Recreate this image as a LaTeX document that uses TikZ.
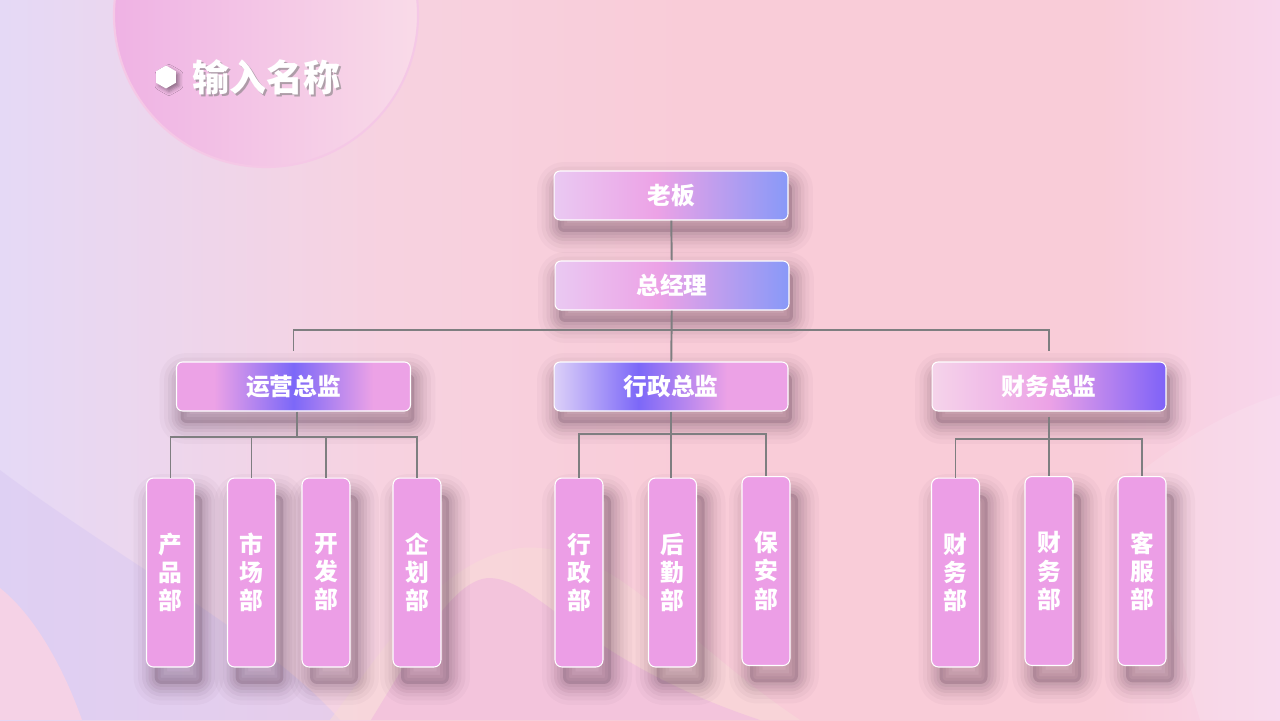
\documentclass[tikz,border=0pt]{standalone}
\usepackage{fontspec}
\newfontfamily\cjk{Noto Sans CJK SC}
\usetikzlibrary{shapes.geometric,shadows.blur}

\definecolor{bgpink}{HTML}{F9CCD8}
\definecolor{bglav}{HTML}{E5D9F6}
\definecolor{bgmid}{HTML}{F7D2E0}
\definecolor{bgright}{HTML}{F8D6EC}
\definecolor{bloblow}{HTML}{EFB2E4}
\definecolor{blobhigh}{HTML}{F9DBE8}
\definecolor{lavcorner}{HTML}{D9C8F2}
\definecolor{pinkcorner}{HTML}{F5D2E6}
\definecolor{cream}{HTML}{F8DAD8}
\definecolor{hillpink}{HTML}{F3C4DC}
\definecolor{linkgray}{HTML}{7E7E80}
\definecolor{deptpink}{HTML}{EC9EE6}
\definecolor{lilac}{HTML}{EAC9F2}
\definecolor{rosy}{HTML}{ECA2E6}
\definecolor{skyblue}{HTML}{8899F8}
\definecolor{violet}{HTML}{7C68F8}
\definecolor{palelav}{HTML}{DCD0F8}
\definecolor{palepink}{HTML}{F5D4EA}
\definecolor{deepviolet}{HTML}{7E62F8}
\definecolor{shadowtone}{HTML}{4A2A40}

\pgfdeclarehorizontalshading{bgshade}{100bp}{color(0bp)=(bglav); color(25bp)=(bglav); color(40bp)=(bgmid); color(52bp)=(bgpink); color(68bp)=(bgpink); color(75bp)=(bgright); color(100bp)=(bgright)}
\pgfdeclarehorizontalshading{blobshade}{100bp}{color(0bp)=(bloblow); color(25bp)=(bloblow); color(75bp)=(blobhigh); color(100bp)=(blobhigh)}
\pgfdeclarehorizontalshading{topshade}{100bp}{color(0bp)=(lilac); color(25bp)=(lilac); color(47bp)=(rosy); color(75bp)=(skyblue); color(100bp)=(skyblue)}
\pgfdeclarehorizontalshading{opsshade}{100bp}{color(0bp)=(rosy); color(25bp)=(rosy); color(33bp)=(rosy); color(50bp)=(violet); color(67bp)=(rosy); color(75bp)=(rosy); color(100bp)=(rosy)}
\pgfdeclarehorizontalshading{admshade}{100bp}{color(0bp)=(palelav); color(25bp)=(palelav); color(43bp)=(violet); color(62bp)=(rosy); color(75bp)=(rosy); color(100bp)=(rosy)}
\pgfdeclarehorizontalshading{finshade}{100bp}{color(0bp)=(palepink); color(25bp)=(palepink); color(50bp)=(rosy); color(75bp)=(deepviolet); color(100bp)=(deepviolet)}

\tikzset{
  softshadow/.style={
    preaction={fill=shadowtone, opacity=0.18, transform canvas={shift={#1}}},
    preaction={draw=shadowtone, line width=0.12cm, line join=round, opacity=0.06, transform canvas={shift={#1}}},
    preaction={draw=shadowtone, line width=0.24cm, line join=round, opacity=0.06, transform canvas={shift={#1}}},
    preaction={draw=shadowtone, line width=0.36cm, line join=round, opacity=0.06, transform canvas={shift={#1}}},
    preaction={draw=shadowtone, line width=0.5cm, line join=round, opacity=0.05, transform canvas={shift={#1}}},
    preaction={draw=shadowtone, line width=0.66cm, line join=round, opacity=0.04, transform canvas={shift={#1}}},
    preaction={draw=shadowtone, line width=0.84cm, line join=round, opacity=0.03, transform canvas={shift={#1}}}},
  head/.style={draw=white, line width=0.6pt, rounded corners=0.12cm,
    minimum width=4.68cm, minimum height=0.98cm, text=white,
    font=\cjk\bfseries\fontsize{13.5}{16}\selectfont,
    softshadow={(0.08cm,-0.24cm)}},
  dept/.style={draw=white, line width=0.6pt, rounded corners=0.14cm, fill=deptpink,
    minimum width=0.96cm, minimum height=3.78cm, text=white, align=center,
    font=\cjk\bfseries\fontsize{13.5}{16}\selectfont,
    softshadow={(0.16cm,-0.34cm)}},
  link/.style={draw=linkgray, line width=1.1pt},
  heading/.style={text=white, font=\cjk\bfseries\fontsize{21}{24}\selectfont, inner sep=0pt}
}

\begin{document}
\begin{tikzpicture}[x=0.02cm, y=0.02cm]
\useasboundingbox (0,0) rectangle (1280,-720);
\clip (0,0) rectangle (1280,-720);

% background
\fill[shading=bgshade] (0,0) rectangle (1280,-720);
\fill[bloblow!45!blobhigh] (266,-15) circle (152);
\fill[shading=blobshade] (266,-15) circle (152);
\draw[bloblow!45!blobhigh, line width=1.2pt] (266,-15) circle (152);
\fill[lavcorner, opacity=0.5] (0,-470) .. controls (120,-560) and (270,-640) .. (340,-720) -- (0,-720) -- cycle;
\fill[pinkcorner] (0,-588) .. controls (40,-620) and (68,-680) .. (82,-720) -- (0,-720) -- cycle;
\fill[cream, opacity=0.6] (330,-720) .. controls (390,-640) and (440,-560) .. (520,-548)
  .. controls (610,-540) and (680,-640) .. (800,-720) -- cycle;
\fill[hillpink] (371,-720) .. controls (420,-640) and (455,-578) .. (490,-578)
  .. controls (540,-580) and (580,-660) .. (760,-720) -- cycle;
\fill[white, opacity=0.12] (1130,-480) .. controls (1180,-440) and (1230,-410) .. (1280,-395) -- (1280,-720) -- (1200,-720) -- cycle;

% title
\node[regular polygon, regular polygon sides=6, rotate=30, fill=white, minimum size=0.46cm, inner sep=0pt,
  blur shadow={shadow xshift=0.06cm, shadow yshift=-0.06cm, shadow blur radius=0.08cm, shadow opacity=40}] (dot) at (166,-77) {};
\node[heading, text=gray, opacity=0.6, anchor=west] (ttlshadow) at (194,-79) {输入名称};
\node[heading, anchor=west] (ttl) at (192,-77) {输入名称};

% links (under the boxes)
\coordinate (busT) at (671,-330);
\coordinate (busO) at (297,-437);
\coordinate (busA) at (671,-434);
\coordinate (busF) at (1049,-439);

% heads
\node[head, shading=topshade] (boss) at (671,-195.5) {老板};
\node[head, shading=topshade] (gm) at (672,-285.5) {总经理};
\node[head, shading=opsshade] (ops) at (293.5,-386.5) {运营总监};
\node[head, shading=admshade] (adm) at (671,-386.5) {行政总监};
\node[head, shading=finshade] (fin) at (1049,-386.5) {财务总监};

% departments
\node[dept] (p1) at (170.5,-572.5) {产\\品\\部};
\node[dept] (p2) at (251.5,-572.5) {市\\场\\部};
\node[dept] (p3) at (326,-572.5) {开\\发\\部};
\node[dept] (p4) at (417,-572.5) {企\\划\\部};
\node[dept] (a1) at (579,-572.5) {行\\政\\部};
\node[dept] (a2) at (672.5,-572.5) {后\\勤\\部};
\node[dept] (a3) at (766,-571) {保\\安\\部};
\node[dept] (f1) at (955.5,-572.5) {财\\务\\部};
\node[dept] (f2) at (1049,-571) {财\\务\\部};
\node[dept] (f3) at (1142,-571) {客\\服\\部};

\draw[link] (boss) -- (gm);
\draw[link] (gm) -- (adm);
\draw[link, shorten >=0.2cm] (busT) -| (ops);
\draw[link, shorten >=0.2cm] (busT) -| (fin);

\draw[link] (ops.south -| busO) -- (busO);
\foreach \d in {p1,p2,p3,p4}
  \draw[link] (busO) -| (\d);

\draw[link] (adm.south) -- (adm.south |- a2.north);
\foreach \d in {a1,a3}
  \draw[link] (busA) -| (\d);

\draw[link] ([yshift=-0.1cm]fin.south) -- (f2);
\foreach \d in {f1,f3}
  \draw[link] (busF) -| (\d);

\end{tikzpicture}
\end{document}
